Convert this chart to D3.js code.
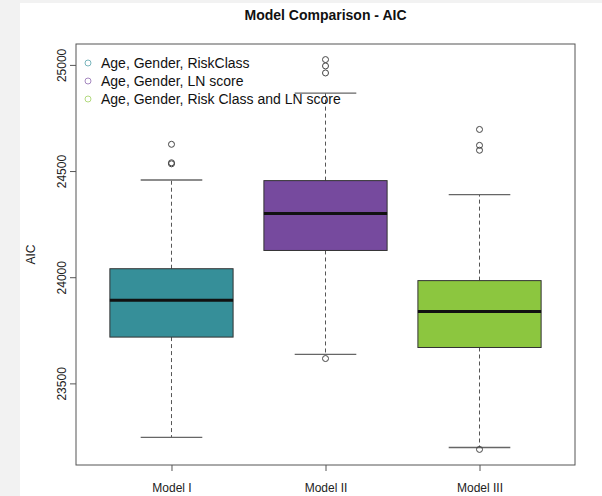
<!DOCTYPE html>
<html>
<head>
<meta charset="utf-8">
<script src="https://cdn.jsdelivr.net/npm/d3@7"></script>
<style>
  html, body { margin: 0; padding: 0; background: #f2f2f2; }
  svg { display: block; }
  text { font-family: "Liberation Sans", Arial, Helvetica, sans-serif; }
</style>
</head>
<body>
<svg id="chart" width="602" height="496"></svg>
<script>
// Boxplot statistics for each model (AIC)
const categories   = ["Model I", "Model II", "Model III"];
const whiskerLow   = [23246, 23637, 23198];
const q1           = [23718, 24126, 23669];
const median       = [23892, 24300, 23838];
const q3           = [24040, 24455, 23984];
const whiskerHigh  = [24458, 24867, 24389];
const outliers     = [
  [24626, 24539, 24534],
  [25025, 24995, 24962, 23617],
  [24696, 24621, 24598, 23189]
];
const fillColors   = ["#368f99", "#764a9e", "#8cc63f"];
const legendLabels = [
  "Age, Gender, RiskClass",
  "Age, Gender, LN score",
  "Age, Gender, Risk Class and LN score"
];
const yTicks = [23500, 24000, 24500, 25000];

const svg = d3.select("#chart");
const W = 602, H = 496;

// page background: grey frame on the top/left, white panel
svg.append("rect").attr("width", W).attr("height", H).attr("fill", "#f2f2f2");
svg.append("rect").attr("x", 20).attr("y", 3).attr("width", W - 20).attr("height", H - 3).attr("fill", "#ffffff");

const plot = { left: 76, right: 575, top: 44, bottom: 465 };

const x = d3.scalePoint()
  .domain(categories)
  .range([plot.left, plot.right])
  .padding(0.62);

// y range padded by 4% on both sides of the data extent
const allVals = whiskerLow.concat(whiskerHigh, outliers.flat());
const lo = d3.min(allVals), hi = d3.max(allVals), pad = (hi - lo) * 0.04;
const y = d3.scaleLinear()
  .domain([lo - pad, hi + pad])
  .range([plot.bottom, plot.top]);

const boxW = x.step() * 0.8;
const capW = boxW * 0.5;

const rows = categories.map((c, i) => ({
  name: c, lo: whiskerLow[i], q1: q1[i], med: median[i], q3: q3[i], hi: whiskerHigh[i],
  out: outliers[i], fill: fillColors[i]
}));

const g = svg.append("g");

// whiskers (dashed)
g.selectAll("line.whiskerUp").data(rows).join("line")
  .attr("x1", d => x(d.name)).attr("x2", d => x(d.name))
  .attr("y1", d => y(d.q3)).attr("y2", d => y(d.hi))
  .attr("stroke", "#555").attr("stroke-width", 1).attr("stroke-dasharray", "4,3");
g.selectAll("line.whiskerDown").data(rows).join("line")
  .attr("x1", d => x(d.name)).attr("x2", d => x(d.name))
  .attr("y1", d => y(d.q1)).attr("y2", d => y(d.lo))
  .attr("stroke", "#555").attr("stroke-width", 1).attr("stroke-dasharray", "4,3");

// staples
["hi", "lo"].forEach(k => {
  g.selectAll("line.cap-" + k).data(rows).join("line")
    .attr("x1", d => x(d.name) - capW / 2).attr("x2", d => x(d.name) + capW / 2)
    .attr("y1", d => y(d[k])).attr("y2", d => y(d[k]))
    .attr("stroke", "#666").attr("stroke-width", 1.3);
});

// boxes
g.selectAll("rect.box").data(rows).join("rect")
  .attr("x", d => x(d.name) - boxW / 2)
  .attr("y", d => y(d.q3))
  .attr("width", boxW)
  .attr("height", d => y(d.q1) - y(d.q3))
  .attr("fill", d => d.fill)
  .attr("stroke", "#333").attr("stroke-width", 1);

// medians
g.selectAll("line.median").data(rows).join("line")
  .attr("x1", d => x(d.name) - boxW / 2).attr("x2", d => x(d.name) + boxW / 2)
  .attr("y1", d => y(d.med)).attr("y2", d => y(d.med))
  .attr("stroke", "#111").attr("stroke-width", 3);

// outliers
rows.forEach(d => {
  g.selectAll(null).data(d.out).join("circle")
    .attr("cx", x(d.name)).attr("cy", v => y(v)).attr("r", 3)
    .attr("fill", "none").attr("stroke", "#444").attr("stroke-width", 1);
});

// plot frame
svg.append("rect")
  .attr("x", plot.left).attr("y", plot.top)
  .attr("width", plot.right - plot.left).attr("height", plot.bottom - plot.top)
  .attr("fill", "none").attr("stroke", "#555").attr("stroke-width", 1);

// y axis
const yAxis = svg.append("g").attr("transform", `translate(${plot.left},0)`)
  .call(d3.axisLeft(y).tickValues(yTicks).tickSize(6).tickPadding(0).tickFormat(d3.format("d")));
yAxis.select(".domain").remove();
yAxis.selectAll(".tick line").attr("stroke", "#555");
yAxis.selectAll(".tick text")
  .attr("transform", "rotate(-90)")
  .attr("x", 0).attr("y", -14)
  .attr("text-anchor", "middle")
  .attr("font-size", 12).attr("fill", "#222")
  .attr("font-family", "Liberation Sans, Arial, sans-serif");

// x axis
const xAxis = svg.append("g").attr("transform", `translate(0,${plot.bottom})`)
  .call(d3.axisBottom(x).tickSize(6).tickPadding(12));
xAxis.select(".domain").remove();
xAxis.selectAll(".tick line").attr("stroke", "#555");
xAxis.selectAll(".tick text")
  .attr("font-size", 12).attr("fill", "#222")
  .attr("font-family", "Liberation Sans, Arial, sans-serif");

// axis title
svg.append("text")
  .attr("transform", `translate(35,${(plot.top + plot.bottom) / 2}) rotate(-90)`)
  .attr("text-anchor", "middle")
  .attr("font-size", 12).attr("fill", "#222")
  .text("AIC");

// chart title
svg.append("text")
  .attr("x", (plot.left + plot.right) / 2).attr("y", 20)
  .attr("text-anchor", "middle")
  .attr("font-size", 14).attr("font-weight", "bold").attr("fill", "#111")
  .text("Model Comparison - AIC");

// legend
const legend = svg.append("g").attr("transform", "translate(88,63)");
const li = legend.selectAll("g").data(legendLabels).join("g")
  .attr("transform", (d, i) => `translate(0,${i * 18})`);
li.append("circle").attr("r", 3).attr("fill", "none")
  .attr("stroke", (d, i) => fillColors[i]).attr("stroke-opacity", 0.65).attr("stroke-width", 1);
li.append("text").attr("x", 13).attr("y", 5)
  .attr("font-size", 14).attr("fill", "#111")
  .text(d => d);
</script>
</body>
</html>
